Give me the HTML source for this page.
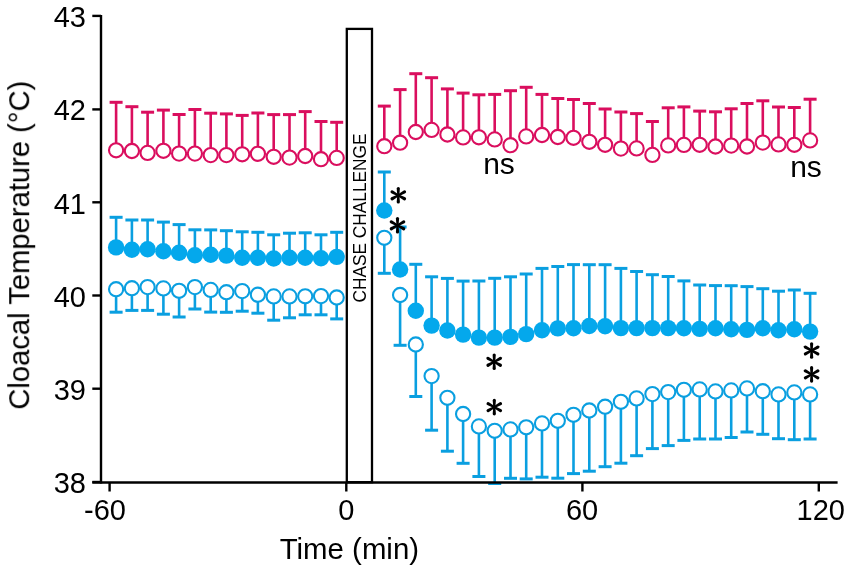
<!DOCTYPE html>
<html><head><meta charset="utf-8"><style>
html,body{margin:0;padding:0;background:#fff;}
body{width:850px;height:571px;overflow:hidden;font-family:"Liberation Sans",sans-serif;}
svg{display:block;}
</style></head><body>
<svg width="850" height="571" viewBox="0 0 850 571">
<defs><filter id="g" x="0" y="0" width="850" height="571" filterUnits="userSpaceOnUse"><feOffset dx="0" dy="0"/></filter></defs>
<rect x="346.8" y="28.9" width="25.2" height="453.3" fill="#fff" stroke="#000" stroke-width="2.3"/>
<g stroke="#da0e5e" stroke-width="2.6"><line x1="116.1" y1="150.3" x2="116.1" y2="102.3"/><rect x="109.6" y="100.8" width="13.0" height="3.0" stroke="none" fill="#da0e5e"/><line x1="131.9" y1="151.0" x2="131.9" y2="106.7"/><rect x="125.4" y="105.2" width="13.0" height="3.0" stroke="none" fill="#da0e5e"/><line x1="147.6" y1="152.9" x2="147.6" y2="112.2"/><rect x="141.1" y="110.7" width="13.0" height="3.0" stroke="none" fill="#da0e5e"/><line x1="163.4" y1="150.8" x2="163.4" y2="110.1"/><rect x="156.9" y="108.6" width="13.0" height="3.0" stroke="none" fill="#da0e5e"/><line x1="179.1" y1="153.6" x2="179.1" y2="114.5"/><rect x="172.6" y="113.0" width="13.0" height="3.0" stroke="none" fill="#da0e5e"/><line x1="194.9" y1="153.6" x2="194.9" y2="109.5"/><rect x="188.4" y="108.0" width="13.0" height="3.0" stroke="none" fill="#da0e5e"/><line x1="210.7" y1="155.1" x2="210.7" y2="113.2"/><rect x="204.2" y="111.7" width="13.0" height="3.0" stroke="none" fill="#da0e5e"/><line x1="226.4" y1="155.1" x2="226.4" y2="113.9"/><rect x="219.9" y="112.4" width="13.0" height="3.0" stroke="none" fill="#da0e5e"/><line x1="242.2" y1="154.3" x2="242.2" y2="115.4"/><rect x="235.7" y="113.9" width="13.0" height="3.0" stroke="none" fill="#da0e5e"/><line x1="257.9" y1="153.8" x2="257.9" y2="113.0"/><rect x="251.4" y="111.5" width="13.0" height="3.0" stroke="none" fill="#da0e5e"/><line x1="273.7" y1="156.8" x2="273.7" y2="114.6"/><rect x="267.2" y="113.1" width="13.0" height="3.0" stroke="none" fill="#da0e5e"/><line x1="289.5" y1="157.6" x2="289.5" y2="114.6"/><rect x="283.0" y="113.1" width="13.0" height="3.0" stroke="none" fill="#da0e5e"/><line x1="305.2" y1="156.0" x2="305.2" y2="111.6"/><rect x="298.7" y="110.1" width="13.0" height="3.0" stroke="none" fill="#da0e5e"/><line x1="321.0" y1="159.2" x2="321.0" y2="121.5"/><rect x="314.5" y="120.0" width="13.0" height="3.0" stroke="none" fill="#da0e5e"/><line x1="336.7" y1="157.9" x2="336.7" y2="122.3"/><rect x="330.2" y="120.8" width="13.0" height="3.0" stroke="none" fill="#da0e5e"/></g>
<g fill="#fff" stroke="#da0e5e" stroke-width="2.1"><circle cx="116.1" cy="150.3" r="7.1"/><circle cx="131.9" cy="151.0" r="7.1"/><circle cx="147.6" cy="152.9" r="7.1"/><circle cx="163.4" cy="150.8" r="7.1"/><circle cx="179.1" cy="153.6" r="7.1"/><circle cx="194.9" cy="153.6" r="7.1"/><circle cx="210.7" cy="155.1" r="7.1"/><circle cx="226.4" cy="155.1" r="7.1"/><circle cx="242.2" cy="154.3" r="7.1"/><circle cx="257.9" cy="153.8" r="7.1"/><circle cx="273.7" cy="156.8" r="7.1"/><circle cx="289.5" cy="157.6" r="7.1"/><circle cx="305.2" cy="156.0" r="7.1"/><circle cx="321.0" cy="159.2" r="7.1"/><circle cx="336.7" cy="157.9" r="7.1"/></g>
<g stroke="#da0e5e" stroke-width="2.6"><line x1="384.3" y1="146.2" x2="384.3" y2="106.1"/><rect x="377.8" y="104.6" width="13.0" height="3.0" stroke="none" fill="#da0e5e"/><line x1="400.1" y1="142.7" x2="400.1" y2="89.6"/><rect x="393.6" y="88.1" width="13.0" height="3.0" stroke="none" fill="#da0e5e"/><line x1="415.8" y1="132.0" x2="415.8" y2="73.7"/><rect x="409.3" y="72.2" width="13.0" height="3.0" stroke="none" fill="#da0e5e"/><line x1="431.6" y1="129.9" x2="431.6" y2="77.7"/><rect x="425.1" y="76.2" width="13.0" height="3.0" stroke="none" fill="#da0e5e"/><line x1="447.4" y1="134.5" x2="447.4" y2="88.9"/><rect x="440.9" y="87.4" width="13.0" height="3.0" stroke="none" fill="#da0e5e"/><line x1="463.1" y1="137.4" x2="463.1" y2="93.1"/><rect x="456.6" y="91.6" width="13.0" height="3.0" stroke="none" fill="#da0e5e"/><line x1="478.9" y1="137.3" x2="478.9" y2="94.8"/><rect x="472.4" y="93.3" width="13.0" height="3.0" stroke="none" fill="#da0e5e"/><line x1="494.7" y1="139.4" x2="494.7" y2="94.4"/><rect x="488.2" y="92.9" width="13.0" height="3.0" stroke="none" fill="#da0e5e"/><line x1="510.5" y1="145.2" x2="510.5" y2="90.7"/><rect x="504.0" y="89.2" width="13.0" height="3.0" stroke="none" fill="#da0e5e"/><line x1="526.2" y1="136.4" x2="526.2" y2="87.3"/><rect x="519.7" y="85.8" width="13.0" height="3.0" stroke="none" fill="#da0e5e"/><line x1="542.0" y1="135.0" x2="542.0" y2="94.4"/><rect x="535.5" y="92.9" width="13.0" height="3.0" stroke="none" fill="#da0e5e"/><line x1="557.8" y1="137.0" x2="557.8" y2="98.5"/><rect x="551.3" y="97.0" width="13.0" height="3.0" stroke="none" fill="#da0e5e"/><line x1="573.5" y1="137.8" x2="573.5" y2="99.5"/><rect x="567.0" y="98.0" width="13.0" height="3.0" stroke="none" fill="#da0e5e"/><line x1="589.3" y1="141.8" x2="589.3" y2="103.5"/><rect x="582.8" y="102.0" width="13.0" height="3.0" stroke="none" fill="#da0e5e"/><line x1="605.1" y1="144.8" x2="605.1" y2="109.0"/><rect x="598.6" y="107.5" width="13.0" height="3.0" stroke="none" fill="#da0e5e"/><line x1="620.9" y1="148.6" x2="620.9" y2="112.0"/><rect x="614.4" y="110.5" width="13.0" height="3.0" stroke="none" fill="#da0e5e"/><line x1="636.6" y1="148.4" x2="636.6" y2="113.6"/><rect x="630.1" y="112.1" width="13.0" height="3.0" stroke="none" fill="#da0e5e"/><line x1="652.4" y1="154.9" x2="652.4" y2="121.5"/><rect x="645.9" y="120.0" width="13.0" height="3.0" stroke="none" fill="#da0e5e"/><line x1="668.2" y1="145.4" x2="668.2" y2="107.8"/><rect x="661.7" y="106.3" width="13.0" height="3.0" stroke="none" fill="#da0e5e"/><line x1="683.9" y1="144.9" x2="683.9" y2="106.9"/><rect x="677.4" y="105.4" width="13.0" height="3.0" stroke="none" fill="#da0e5e"/><line x1="699.7" y1="144.8" x2="699.7" y2="111.1"/><rect x="693.2" y="109.6" width="13.0" height="3.0" stroke="none" fill="#da0e5e"/><line x1="715.5" y1="146.5" x2="715.5" y2="111.8"/><rect x="709.0" y="110.3" width="13.0" height="3.0" stroke="none" fill="#da0e5e"/><line x1="731.2" y1="145.6" x2="731.2" y2="108.8"/><rect x="724.7" y="107.3" width="13.0" height="3.0" stroke="none" fill="#da0e5e"/><line x1="747.0" y1="146.5" x2="747.0" y2="103.5"/><rect x="740.5" y="102.0" width="13.0" height="3.0" stroke="none" fill="#da0e5e"/><line x1="762.8" y1="142.6" x2="762.8" y2="100.8"/><rect x="756.3" y="99.3" width="13.0" height="3.0" stroke="none" fill="#da0e5e"/><line x1="778.5" y1="144.4" x2="778.5" y2="107.0"/><rect x="772.0" y="105.5" width="13.0" height="3.0" stroke="none" fill="#da0e5e"/><line x1="794.3" y1="144.8" x2="794.3" y2="107.5"/><rect x="787.8" y="106.0" width="13.0" height="3.0" stroke="none" fill="#da0e5e"/><line x1="810.1" y1="140.4" x2="810.1" y2="99.2"/><rect x="803.6" y="97.7" width="13.0" height="3.0" stroke="none" fill="#da0e5e"/></g>
<g fill="#fff" stroke="#da0e5e" stroke-width="2.1"><circle cx="384.3" cy="146.2" r="7.1"/><circle cx="400.1" cy="142.7" r="7.1"/><circle cx="415.8" cy="132.0" r="7.1"/><circle cx="431.6" cy="129.9" r="7.1"/><circle cx="447.4" cy="134.5" r="7.1"/><circle cx="463.1" cy="137.4" r="7.1"/><circle cx="478.9" cy="137.3" r="7.1"/><circle cx="494.7" cy="139.4" r="7.1"/><circle cx="510.5" cy="145.2" r="7.1"/><circle cx="526.2" cy="136.4" r="7.1"/><circle cx="542.0" cy="135.0" r="7.1"/><circle cx="557.8" cy="137.0" r="7.1"/><circle cx="573.5" cy="137.8" r="7.1"/><circle cx="589.3" cy="141.8" r="7.1"/><circle cx="605.1" cy="144.8" r="7.1"/><circle cx="620.9" cy="148.6" r="7.1"/><circle cx="636.6" cy="148.4" r="7.1"/><circle cx="652.4" cy="154.9" r="7.1"/><circle cx="668.2" cy="145.4" r="7.1"/><circle cx="683.9" cy="144.9" r="7.1"/><circle cx="699.7" cy="144.8" r="7.1"/><circle cx="715.5" cy="146.5" r="7.1"/><circle cx="731.2" cy="145.6" r="7.1"/><circle cx="747.0" cy="146.5" r="7.1"/><circle cx="762.8" cy="142.6" r="7.1"/><circle cx="778.5" cy="144.4" r="7.1"/><circle cx="794.3" cy="144.8" r="7.1"/><circle cx="810.1" cy="140.4" r="7.1"/></g>
<g stroke="#0a9fe0" stroke-width="2.6"><line x1="116.1" y1="289.2" x2="116.1" y2="312.2"/><rect x="109.6" y="310.7" width="13.0" height="3.0" stroke="none" fill="#0a9fe0"/><line x1="131.9" y1="288.2" x2="131.9" y2="310.4"/><rect x="125.4" y="308.9" width="13.0" height="3.0" stroke="none" fill="#0a9fe0"/><line x1="147.6" y1="287.1" x2="147.6" y2="310.4"/><rect x="141.1" y="308.9" width="13.0" height="3.0" stroke="none" fill="#0a9fe0"/><line x1="163.4" y1="288.4" x2="163.4" y2="314.2"/><rect x="156.9" y="312.7" width="13.0" height="3.0" stroke="none" fill="#0a9fe0"/><line x1="179.1" y1="290.8" x2="179.1" y2="317.0"/><rect x="172.6" y="315.5" width="13.0" height="3.0" stroke="none" fill="#0a9fe0"/><line x1="194.9" y1="287.1" x2="194.9" y2="309.0"/><rect x="188.4" y="307.5" width="13.0" height="3.0" stroke="none" fill="#0a9fe0"/><line x1="210.7" y1="289.9" x2="210.7" y2="312.1"/><rect x="204.2" y="310.6" width="13.0" height="3.0" stroke="none" fill="#0a9fe0"/><line x1="226.4" y1="292.2" x2="226.4" y2="312.3"/><rect x="219.9" y="310.8" width="13.0" height="3.0" stroke="none" fill="#0a9fe0"/><line x1="242.2" y1="291.1" x2="242.2" y2="311.2"/><rect x="235.7" y="309.7" width="13.0" height="3.0" stroke="none" fill="#0a9fe0"/><line x1="257.9" y1="294.7" x2="257.9" y2="313.2"/><rect x="251.4" y="311.7" width="13.0" height="3.0" stroke="none" fill="#0a9fe0"/><line x1="273.7" y1="296.4" x2="273.7" y2="320.2"/><rect x="267.2" y="318.7" width="13.0" height="3.0" stroke="none" fill="#0a9fe0"/><line x1="289.5" y1="296.4" x2="289.5" y2="317.8"/><rect x="283.0" y="316.3" width="13.0" height="3.0" stroke="none" fill="#0a9fe0"/><line x1="305.2" y1="296.3" x2="305.2" y2="314.8"/><rect x="298.7" y="313.3" width="13.0" height="3.0" stroke="none" fill="#0a9fe0"/><line x1="321.0" y1="296.1" x2="321.0" y2="314.8"/><rect x="314.5" y="313.3" width="13.0" height="3.0" stroke="none" fill="#0a9fe0"/><line x1="336.7" y1="297.5" x2="336.7" y2="318.9"/><rect x="330.2" y="317.4" width="13.0" height="3.0" stroke="none" fill="#0a9fe0"/></g>
<g fill="#fff" stroke="#0a9fe0" stroke-width="2.1"><circle cx="116.1" cy="289.2" r="7.1"/><circle cx="131.9" cy="288.2" r="7.1"/><circle cx="147.6" cy="287.1" r="7.1"/><circle cx="163.4" cy="288.4" r="7.1"/><circle cx="179.1" cy="290.8" r="7.1"/><circle cx="194.9" cy="287.1" r="7.1"/><circle cx="210.7" cy="289.9" r="7.1"/><circle cx="226.4" cy="292.2" r="7.1"/><circle cx="242.2" cy="291.1" r="7.1"/><circle cx="257.9" cy="294.7" r="7.1"/><circle cx="273.7" cy="296.4" r="7.1"/><circle cx="289.5" cy="296.4" r="7.1"/><circle cx="305.2" cy="296.3" r="7.1"/><circle cx="321.0" cy="296.1" r="7.1"/><circle cx="336.7" cy="297.5" r="7.1"/></g>
<g stroke="#0a9fe0" stroke-width="2.6"><line x1="384.3" y1="237.8" x2="384.3" y2="273.3"/><rect x="377.8" y="271.8" width="13.0" height="3.0" stroke="none" fill="#0a9fe0"/><line x1="400.1" y1="295.0" x2="400.1" y2="345.3"/><rect x="393.6" y="343.8" width="13.0" height="3.0" stroke="none" fill="#0a9fe0"/><line x1="415.8" y1="344.5" x2="415.8" y2="396.5"/><rect x="409.3" y="395.0" width="13.0" height="3.0" stroke="none" fill="#0a9fe0"/><line x1="431.6" y1="376.1" x2="431.6" y2="430.2"/><rect x="425.1" y="428.7" width="13.0" height="3.0" stroke="none" fill="#0a9fe0"/><line x1="447.4" y1="397.8" x2="447.4" y2="451.2"/><rect x="440.9" y="449.7" width="13.0" height="3.0" stroke="none" fill="#0a9fe0"/><line x1="463.1" y1="414.0" x2="463.1" y2="463.3"/><rect x="456.6" y="461.8" width="13.0" height="3.0" stroke="none" fill="#0a9fe0"/><line x1="478.9" y1="426.4" x2="478.9" y2="476.5"/><rect x="472.4" y="475.0" width="13.0" height="3.0" stroke="none" fill="#0a9fe0"/><line x1="494.7" y1="430.8" x2="494.7" y2="483.5"/><rect x="488.2" y="482.0" width="13.0" height="3.0" stroke="none" fill="#0a9fe0"/><line x1="510.5" y1="429.4" x2="510.5" y2="478.3"/><rect x="504.0" y="476.8" width="13.0" height="3.0" stroke="none" fill="#0a9fe0"/><line x1="526.2" y1="427.3" x2="526.2" y2="478.9"/><rect x="519.7" y="477.4" width="13.0" height="3.0" stroke="none" fill="#0a9fe0"/><line x1="542.0" y1="423.4" x2="542.0" y2="477.2"/><rect x="535.5" y="475.7" width="13.0" height="3.0" stroke="none" fill="#0a9fe0"/><line x1="557.8" y1="420.8" x2="557.8" y2="478.2"/><rect x="551.3" y="476.7" width="13.0" height="3.0" stroke="none" fill="#0a9fe0"/><line x1="573.5" y1="414.8" x2="573.5" y2="473.6"/><rect x="567.0" y="472.1" width="13.0" height="3.0" stroke="none" fill="#0a9fe0"/><line x1="589.3" y1="410.5" x2="589.3" y2="471.2"/><rect x="582.8" y="469.7" width="13.0" height="3.0" stroke="none" fill="#0a9fe0"/><line x1="605.1" y1="406.7" x2="605.1" y2="466.7"/><rect x="598.6" y="465.2" width="13.0" height="3.0" stroke="none" fill="#0a9fe0"/><line x1="620.9" y1="401.8" x2="620.9" y2="463.2"/><rect x="614.4" y="461.7" width="13.0" height="3.0" stroke="none" fill="#0a9fe0"/><line x1="636.6" y1="398.4" x2="636.6" y2="455.7"/><rect x="630.1" y="454.2" width="13.0" height="3.0" stroke="none" fill="#0a9fe0"/><line x1="652.4" y1="394.1" x2="652.4" y2="448.6"/><rect x="645.9" y="447.1" width="13.0" height="3.0" stroke="none" fill="#0a9fe0"/><line x1="668.2" y1="392.1" x2="668.2" y2="445.6"/><rect x="661.7" y="444.1" width="13.0" height="3.0" stroke="none" fill="#0a9fe0"/><line x1="683.9" y1="389.8" x2="683.9" y2="440.4"/><rect x="677.4" y="438.9" width="13.0" height="3.0" stroke="none" fill="#0a9fe0"/><line x1="699.7" y1="389.4" x2="699.7" y2="439.0"/><rect x="693.2" y="437.5" width="13.0" height="3.0" stroke="none" fill="#0a9fe0"/><line x1="715.5" y1="391.4" x2="715.5" y2="439.0"/><rect x="709.0" y="437.5" width="13.0" height="3.0" stroke="none" fill="#0a9fe0"/><line x1="731.2" y1="390.4" x2="731.2" y2="437.5"/><rect x="724.7" y="436.0" width="13.0" height="3.0" stroke="none" fill="#0a9fe0"/><line x1="747.0" y1="388.4" x2="747.0" y2="432.0"/><rect x="740.5" y="430.5" width="13.0" height="3.0" stroke="none" fill="#0a9fe0"/><line x1="762.8" y1="391.2" x2="762.8" y2="434.3"/><rect x="756.3" y="432.8" width="13.0" height="3.0" stroke="none" fill="#0a9fe0"/><line x1="778.5" y1="394.4" x2="778.5" y2="438.7"/><rect x="772.0" y="437.2" width="13.0" height="3.0" stroke="none" fill="#0a9fe0"/><line x1="794.3" y1="392.4" x2="794.3" y2="439.7"/><rect x="787.8" y="438.2" width="13.0" height="3.0" stroke="none" fill="#0a9fe0"/><line x1="810.1" y1="394.4" x2="810.1" y2="439.0"/><rect x="803.6" y="437.5" width="13.0" height="3.0" stroke="none" fill="#0a9fe0"/></g>
<g fill="#fff" stroke="#0a9fe0" stroke-width="2.1"><circle cx="384.3" cy="237.8" r="7.1"/><circle cx="400.1" cy="295.0" r="7.1"/><circle cx="415.8" cy="344.5" r="7.1"/><circle cx="431.6" cy="376.1" r="7.1"/><circle cx="447.4" cy="397.8" r="7.1"/><circle cx="463.1" cy="414.0" r="7.1"/><circle cx="478.9" cy="426.4" r="7.1"/><circle cx="494.7" cy="430.8" r="7.1"/><circle cx="510.5" cy="429.4" r="7.1"/><circle cx="526.2" cy="427.3" r="7.1"/><circle cx="542.0" cy="423.4" r="7.1"/><circle cx="557.8" cy="420.8" r="7.1"/><circle cx="573.5" cy="414.8" r="7.1"/><circle cx="589.3" cy="410.5" r="7.1"/><circle cx="605.1" cy="406.7" r="7.1"/><circle cx="620.9" cy="401.8" r="7.1"/><circle cx="636.6" cy="398.4" r="7.1"/><circle cx="652.4" cy="394.1" r="7.1"/><circle cx="668.2" cy="392.1" r="7.1"/><circle cx="683.9" cy="389.8" r="7.1"/><circle cx="699.7" cy="389.4" r="7.1"/><circle cx="715.5" cy="391.4" r="7.1"/><circle cx="731.2" cy="390.4" r="7.1"/><circle cx="747.0" cy="388.4" r="7.1"/><circle cx="762.8" cy="391.2" r="7.1"/><circle cx="778.5" cy="394.4" r="7.1"/><circle cx="794.3" cy="392.4" r="7.1"/><circle cx="810.1" cy="394.4" r="7.1"/></g>
<g stroke="#0a9fe0" stroke-width="2.6"><line x1="116.1" y1="247.4" x2="116.1" y2="217.3"/><rect x="109.6" y="215.8" width="13.0" height="3.0" stroke="none" fill="#0a9fe0"/><line x1="131.9" y1="249.8" x2="131.9" y2="220.0"/><rect x="125.4" y="218.5" width="13.0" height="3.0" stroke="none" fill="#0a9fe0"/><line x1="147.6" y1="249.2" x2="147.6" y2="220.0"/><rect x="141.1" y="218.5" width="13.0" height="3.0" stroke="none" fill="#0a9fe0"/><line x1="163.4" y1="251.2" x2="163.4" y2="222.1"/><rect x="156.9" y="220.6" width="13.0" height="3.0" stroke="none" fill="#0a9fe0"/><line x1="179.1" y1="252.7" x2="179.1" y2="224.6"/><rect x="172.6" y="223.1" width="13.0" height="3.0" stroke="none" fill="#0a9fe0"/><line x1="194.9" y1="255.3" x2="194.9" y2="229.8"/><rect x="188.4" y="228.3" width="13.0" height="3.0" stroke="none" fill="#0a9fe0"/><line x1="210.7" y1="254.7" x2="210.7" y2="229.9"/><rect x="204.2" y="228.4" width="13.0" height="3.0" stroke="none" fill="#0a9fe0"/><line x1="226.4" y1="255.6" x2="226.4" y2="230.7"/><rect x="219.9" y="229.2" width="13.0" height="3.0" stroke="none" fill="#0a9fe0"/><line x1="242.2" y1="257.7" x2="242.2" y2="231.8"/><rect x="235.7" y="230.3" width="13.0" height="3.0" stroke="none" fill="#0a9fe0"/><line x1="257.9" y1="257.7" x2="257.9" y2="232.3"/><rect x="251.4" y="230.8" width="13.0" height="3.0" stroke="none" fill="#0a9fe0"/><line x1="273.7" y1="258.5" x2="273.7" y2="234.8"/><rect x="267.2" y="233.3" width="13.0" height="3.0" stroke="none" fill="#0a9fe0"/><line x1="289.5" y1="257.7" x2="289.5" y2="233.2"/><rect x="283.0" y="231.7" width="13.0" height="3.0" stroke="none" fill="#0a9fe0"/><line x1="305.2" y1="257.7" x2="305.2" y2="232.8"/><rect x="298.7" y="231.3" width="13.0" height="3.0" stroke="none" fill="#0a9fe0"/><line x1="321.0" y1="258.2" x2="321.0" y2="234.8"/><rect x="314.5" y="233.3" width="13.0" height="3.0" stroke="none" fill="#0a9fe0"/><line x1="336.7" y1="256.9" x2="336.7" y2="232.3"/><rect x="330.2" y="230.8" width="13.0" height="3.0" stroke="none" fill="#0a9fe0"/></g>
<g fill="#04a8ec"><circle cx="116.1" cy="247.4" r="8.2"/><circle cx="131.9" cy="249.8" r="8.2"/><circle cx="147.6" cy="249.2" r="8.2"/><circle cx="163.4" cy="251.2" r="8.2"/><circle cx="179.1" cy="252.7" r="8.2"/><circle cx="194.9" cy="255.3" r="8.2"/><circle cx="210.7" cy="254.7" r="8.2"/><circle cx="226.4" cy="255.6" r="8.2"/><circle cx="242.2" cy="257.7" r="8.2"/><circle cx="257.9" cy="257.7" r="8.2"/><circle cx="273.7" cy="258.5" r="8.2"/><circle cx="289.5" cy="257.7" r="8.2"/><circle cx="305.2" cy="257.7" r="8.2"/><circle cx="321.0" cy="258.2" r="8.2"/><circle cx="336.7" cy="256.9" r="8.2"/></g>
<g stroke="#0a9fe0" stroke-width="2.6"><line x1="384.3" y1="210.5" x2="384.3" y2="172.0"/><rect x="377.8" y="170.5" width="13.0" height="3.0" stroke="none" fill="#0a9fe0"/><line x1="400.1" y1="269.5" x2="400.1" y2="227.0"/><rect x="393.6" y="225.5" width="13.0" height="3.0" stroke="none" fill="#0a9fe0"/><line x1="415.8" y1="310.7" x2="415.8" y2="264.3"/><rect x="409.3" y="262.8" width="13.0" height="3.0" stroke="none" fill="#0a9fe0"/><line x1="431.6" y1="325.6" x2="431.6" y2="276.8"/><rect x="425.1" y="275.3" width="13.0" height="3.0" stroke="none" fill="#0a9fe0"/><line x1="447.4" y1="330.5" x2="447.4" y2="278.4"/><rect x="440.9" y="276.9" width="13.0" height="3.0" stroke="none" fill="#0a9fe0"/><line x1="463.1" y1="334.6" x2="463.1" y2="281.1"/><rect x="456.6" y="279.6" width="13.0" height="3.0" stroke="none" fill="#0a9fe0"/><line x1="478.9" y1="337.6" x2="478.9" y2="281.0"/><rect x="472.4" y="279.5" width="13.0" height="3.0" stroke="none" fill="#0a9fe0"/><line x1="494.7" y1="337.6" x2="494.7" y2="278.3"/><rect x="488.2" y="276.8" width="13.0" height="3.0" stroke="none" fill="#0a9fe0"/><line x1="510.5" y1="336.9" x2="510.5" y2="276.8"/><rect x="504.0" y="275.3" width="13.0" height="3.0" stroke="none" fill="#0a9fe0"/><line x1="526.2" y1="334.1" x2="526.2" y2="274.0"/><rect x="519.7" y="272.5" width="13.0" height="3.0" stroke="none" fill="#0a9fe0"/><line x1="542.0" y1="330.3" x2="542.0" y2="268.4"/><rect x="535.5" y="266.9" width="13.0" height="3.0" stroke="none" fill="#0a9fe0"/><line x1="557.8" y1="328.4" x2="557.8" y2="266.5"/><rect x="551.3" y="265.0" width="13.0" height="3.0" stroke="none" fill="#0a9fe0"/><line x1="573.5" y1="328.2" x2="573.5" y2="264.6"/><rect x="567.0" y="263.1" width="13.0" height="3.0" stroke="none" fill="#0a9fe0"/><line x1="589.3" y1="326.0" x2="589.3" y2="264.7"/><rect x="582.8" y="263.2" width="13.0" height="3.0" stroke="none" fill="#0a9fe0"/><line x1="605.1" y1="326.2" x2="605.1" y2="264.7"/><rect x="598.6" y="263.2" width="13.0" height="3.0" stroke="none" fill="#0a9fe0"/><line x1="620.9" y1="328.1" x2="620.9" y2="268.4"/><rect x="614.4" y="266.9" width="13.0" height="3.0" stroke="none" fill="#0a9fe0"/><line x1="636.6" y1="328.1" x2="636.6" y2="271.5"/><rect x="630.1" y="270.0" width="13.0" height="3.0" stroke="none" fill="#0a9fe0"/><line x1="652.4" y1="328.1" x2="652.4" y2="274.7"/><rect x="645.9" y="273.2" width="13.0" height="3.0" stroke="none" fill="#0a9fe0"/><line x1="668.2" y1="328.1" x2="668.2" y2="276.5"/><rect x="661.7" y="275.0" width="13.0" height="3.0" stroke="none" fill="#0a9fe0"/><line x1="683.9" y1="328.3" x2="683.9" y2="280.9"/><rect x="677.4" y="279.4" width="13.0" height="3.0" stroke="none" fill="#0a9fe0"/><line x1="699.7" y1="328.9" x2="699.7" y2="285.0"/><rect x="693.2" y="283.5" width="13.0" height="3.0" stroke="none" fill="#0a9fe0"/><line x1="715.5" y1="328.3" x2="715.5" y2="285.6"/><rect x="709.0" y="284.1" width="13.0" height="3.0" stroke="none" fill="#0a9fe0"/><line x1="731.2" y1="329.2" x2="731.2" y2="285.7"/><rect x="724.7" y="284.2" width="13.0" height="3.0" stroke="none" fill="#0a9fe0"/><line x1="747.0" y1="329.9" x2="747.0" y2="286.6"/><rect x="740.5" y="285.1" width="13.0" height="3.0" stroke="none" fill="#0a9fe0"/><line x1="762.8" y1="328.2" x2="762.8" y2="288.7"/><rect x="756.3" y="287.2" width="13.0" height="3.0" stroke="none" fill="#0a9fe0"/><line x1="778.5" y1="330.3" x2="778.5" y2="291.2"/><rect x="772.0" y="289.7" width="13.0" height="3.0" stroke="none" fill="#0a9fe0"/><line x1="794.3" y1="329.3" x2="794.3" y2="290.0"/><rect x="787.8" y="288.5" width="13.0" height="3.0" stroke="none" fill="#0a9fe0"/><line x1="810.1" y1="331.6" x2="810.1" y2="293.3"/><rect x="803.6" y="291.8" width="13.0" height="3.0" stroke="none" fill="#0a9fe0"/></g>
<g fill="#04a8ec"><circle cx="384.3" cy="210.5" r="8.2"/><circle cx="400.1" cy="269.5" r="8.2"/><circle cx="415.8" cy="310.7" r="8.2"/><circle cx="431.6" cy="325.6" r="8.2"/><circle cx="447.4" cy="330.5" r="8.2"/><circle cx="463.1" cy="334.6" r="8.2"/><circle cx="478.9" cy="337.6" r="8.2"/><circle cx="494.7" cy="337.6" r="8.2"/><circle cx="510.5" cy="336.9" r="8.2"/><circle cx="526.2" cy="334.1" r="8.2"/><circle cx="542.0" cy="330.3" r="8.2"/><circle cx="557.8" cy="328.4" r="8.2"/><circle cx="573.5" cy="328.2" r="8.2"/><circle cx="589.3" cy="326.0" r="8.2"/><circle cx="605.1" cy="326.2" r="8.2"/><circle cx="620.9" cy="328.1" r="8.2"/><circle cx="636.6" cy="328.1" r="8.2"/><circle cx="652.4" cy="328.1" r="8.2"/><circle cx="668.2" cy="328.1" r="8.2"/><circle cx="683.9" cy="328.3" r="8.2"/><circle cx="699.7" cy="328.9" r="8.2"/><circle cx="715.5" cy="328.3" r="8.2"/><circle cx="731.2" cy="329.2" r="8.2"/><circle cx="747.0" cy="329.9" r="8.2"/><circle cx="762.8" cy="328.2" r="8.2"/><circle cx="778.5" cy="330.3" r="8.2"/><circle cx="794.3" cy="329.3" r="8.2"/><circle cx="810.1" cy="331.6" r="8.2"/></g>
<g stroke="#000" stroke-width="2.4" stroke-linecap="butt"><line x1="101.0" y1="14.9" x2="101.0" y2="483.5"/><line x1="92.3" y1="482.5" x2="837.6" y2="482.5"/><line x1="92.3" y1="15.9" x2="101.0" y2="15.9"/><line x1="92.3" y1="109.4" x2="101.0" y2="109.4"/><line x1="92.3" y1="202.3" x2="101.0" y2="202.3"/><line x1="92.3" y1="295.5" x2="101.0" y2="295.5"/><line x1="92.3" y1="388.7" x2="101.0" y2="388.7"/><line x1="92.3" y1="482.0" x2="101.0" y2="482.0"/><line x1="109.6" y1="482.5" x2="109.6" y2="491.5"/><line x1="346.3" y1="482.5" x2="346.3" y2="491.5"/><line x1="582.4" y1="482.5" x2="582.4" y2="491.5"/><line x1="818.8" y1="482.5" x2="818.8" y2="491.5"/></g>
<g filter="url(#g)" font-family="Liberation Sans, sans-serif" font-size="29" fill="#000"><text transform="translate(85.9,26.6) scale(1,1.04)" text-anchor="end">43</text><text transform="translate(85.9,120.4) scale(1,1.04)" text-anchor="end">42</text><text transform="translate(85.9,213.5) scale(1,1.04)" text-anchor="end">41</text><text transform="translate(85.9,306.6) scale(1,1.04)" text-anchor="end">40</text><text transform="translate(85.9,399.8) scale(1,1.04)" text-anchor="end">39</text><text transform="translate(85.9,493.0) scale(1,1.04)" text-anchor="end">38</text><text transform="translate(105.0,520.4) scale(1,1.04)" text-anchor="middle">-60</text><text transform="translate(346.3,520.4) scale(1,1.04)" text-anchor="middle">0</text><text transform="translate(582.1,520.4) scale(1,1.04)" text-anchor="middle">60</text><text transform="translate(820.8,520.4) scale(1,1.04)" text-anchor="middle">120</text><text transform="translate(279.7,559.2) scale(1,1.02)" font-size="29.4">Time (min)</text><text transform="translate(29.0,245.2) rotate(-90) scale(1,1.03)" text-anchor="middle" font-size="29.2">Cloacal Temperature (°C)</text></g>
<g filter="url(#g)"><text transform="translate(365.9,218) rotate(-90) scale(1,1.04)" text-anchor="middle" font-family="Liberation Sans, sans-serif" font-size="17.3" fill="#000">CHASE CHALLENGE</text></g>
<g transform="translate(398.3,195.3)" fill="#000"><path transform="rotate(0)" d="M-1.05,0 L1.05,0 L1.60,-6.70 A1.60,1.60 0 0 0 -1.60,-6.70 Z"/><path transform="rotate(61)" d="M-1.05,0 L1.05,0 L1.60,-7.10 A1.60,1.60 0 0 0 -1.60,-7.10 Z"/><path transform="rotate(119)" d="M-1.05,0 L1.05,0 L1.60,-7.10 A1.60,1.60 0 0 0 -1.60,-7.10 Z"/><path transform="rotate(180)" d="M-1.05,0 L1.05,0 L1.60,-6.70 A1.60,1.60 0 0 0 -1.60,-6.70 Z"/><path transform="rotate(241)" d="M-1.05,0 L1.05,0 L1.60,-7.10 A1.60,1.60 0 0 0 -1.60,-7.10 Z"/><path transform="rotate(299)" d="M-1.05,0 L1.05,0 L1.60,-7.10 A1.60,1.60 0 0 0 -1.60,-7.10 Z"/><circle r="1.58"/></g>
<g transform="translate(397.5,225.3)" fill="#000"><path transform="rotate(0)" d="M-1.05,0 L1.05,0 L1.60,-6.70 A1.60,1.60 0 0 0 -1.60,-6.70 Z"/><path transform="rotate(61)" d="M-1.05,0 L1.05,0 L1.60,-7.10 A1.60,1.60 0 0 0 -1.60,-7.10 Z"/><path transform="rotate(119)" d="M-1.05,0 L1.05,0 L1.60,-7.10 A1.60,1.60 0 0 0 -1.60,-7.10 Z"/><path transform="rotate(180)" d="M-1.05,0 L1.05,0 L1.60,-6.70 A1.60,1.60 0 0 0 -1.60,-6.70 Z"/><path transform="rotate(241)" d="M-1.05,0 L1.05,0 L1.60,-7.10 A1.60,1.60 0 0 0 -1.60,-7.10 Z"/><path transform="rotate(299)" d="M-1.05,0 L1.05,0 L1.60,-7.10 A1.60,1.60 0 0 0 -1.60,-7.10 Z"/><circle r="1.58"/></g>
<g transform="translate(494.2,361.8)" fill="#000"><path transform="rotate(0)" d="M-1.05,0 L1.05,0 L1.60,-6.70 A1.60,1.60 0 0 0 -1.60,-6.70 Z"/><path transform="rotate(61)" d="M-1.05,0 L1.05,0 L1.60,-7.10 A1.60,1.60 0 0 0 -1.60,-7.10 Z"/><path transform="rotate(119)" d="M-1.05,0 L1.05,0 L1.60,-7.10 A1.60,1.60 0 0 0 -1.60,-7.10 Z"/><path transform="rotate(180)" d="M-1.05,0 L1.05,0 L1.60,-6.70 A1.60,1.60 0 0 0 -1.60,-6.70 Z"/><path transform="rotate(241)" d="M-1.05,0 L1.05,0 L1.60,-7.10 A1.60,1.60 0 0 0 -1.60,-7.10 Z"/><path transform="rotate(299)" d="M-1.05,0 L1.05,0 L1.60,-7.10 A1.60,1.60 0 0 0 -1.60,-7.10 Z"/><circle r="1.58"/></g>
<g transform="translate(494.3,407.1)" fill="#000"><path transform="rotate(0)" d="M-1.05,0 L1.05,0 L1.60,-6.70 A1.60,1.60 0 0 0 -1.60,-6.70 Z"/><path transform="rotate(61)" d="M-1.05,0 L1.05,0 L1.60,-7.10 A1.60,1.60 0 0 0 -1.60,-7.10 Z"/><path transform="rotate(119)" d="M-1.05,0 L1.05,0 L1.60,-7.10 A1.60,1.60 0 0 0 -1.60,-7.10 Z"/><path transform="rotate(180)" d="M-1.05,0 L1.05,0 L1.60,-6.70 A1.60,1.60 0 0 0 -1.60,-6.70 Z"/><path transform="rotate(241)" d="M-1.05,0 L1.05,0 L1.60,-7.10 A1.60,1.60 0 0 0 -1.60,-7.10 Z"/><path transform="rotate(299)" d="M-1.05,0 L1.05,0 L1.60,-7.10 A1.60,1.60 0 0 0 -1.60,-7.10 Z"/><circle r="1.58"/></g>
<g transform="translate(811.6,350.5)" fill="#000"><path transform="rotate(0)" d="M-1.05,0 L1.05,0 L1.60,-6.70 A1.60,1.60 0 0 0 -1.60,-6.70 Z"/><path transform="rotate(61)" d="M-1.05,0 L1.05,0 L1.60,-7.10 A1.60,1.60 0 0 0 -1.60,-7.10 Z"/><path transform="rotate(119)" d="M-1.05,0 L1.05,0 L1.60,-7.10 A1.60,1.60 0 0 0 -1.60,-7.10 Z"/><path transform="rotate(180)" d="M-1.05,0 L1.05,0 L1.60,-6.70 A1.60,1.60 0 0 0 -1.60,-6.70 Z"/><path transform="rotate(241)" d="M-1.05,0 L1.05,0 L1.60,-7.10 A1.60,1.60 0 0 0 -1.60,-7.10 Z"/><path transform="rotate(299)" d="M-1.05,0 L1.05,0 L1.60,-7.10 A1.60,1.60 0 0 0 -1.60,-7.10 Z"/><circle r="1.58"/></g>
<g transform="translate(811.6,374.4)" fill="#000"><path transform="rotate(0)" d="M-1.05,0 L1.05,0 L1.60,-6.70 A1.60,1.60 0 0 0 -1.60,-6.70 Z"/><path transform="rotate(61)" d="M-1.05,0 L1.05,0 L1.60,-7.10 A1.60,1.60 0 0 0 -1.60,-7.10 Z"/><path transform="rotate(119)" d="M-1.05,0 L1.05,0 L1.60,-7.10 A1.60,1.60 0 0 0 -1.60,-7.10 Z"/><path transform="rotate(180)" d="M-1.05,0 L1.05,0 L1.60,-6.70 A1.60,1.60 0 0 0 -1.60,-6.70 Z"/><path transform="rotate(241)" d="M-1.05,0 L1.05,0 L1.60,-7.10 A1.60,1.60 0 0 0 -1.60,-7.10 Z"/><path transform="rotate(299)" d="M-1.05,0 L1.05,0 L1.60,-7.10 A1.60,1.60 0 0 0 -1.60,-7.10 Z"/><circle r="1.58"/></g>
<g filter="url(#g)" font-family="Liberation Sans, sans-serif" font-size="30" fill="#000"><text x="499" y="174" text-anchor="middle">ns</text><text x="806" y="177.1" text-anchor="middle">ns</text></g>
</svg>
</body></html>
